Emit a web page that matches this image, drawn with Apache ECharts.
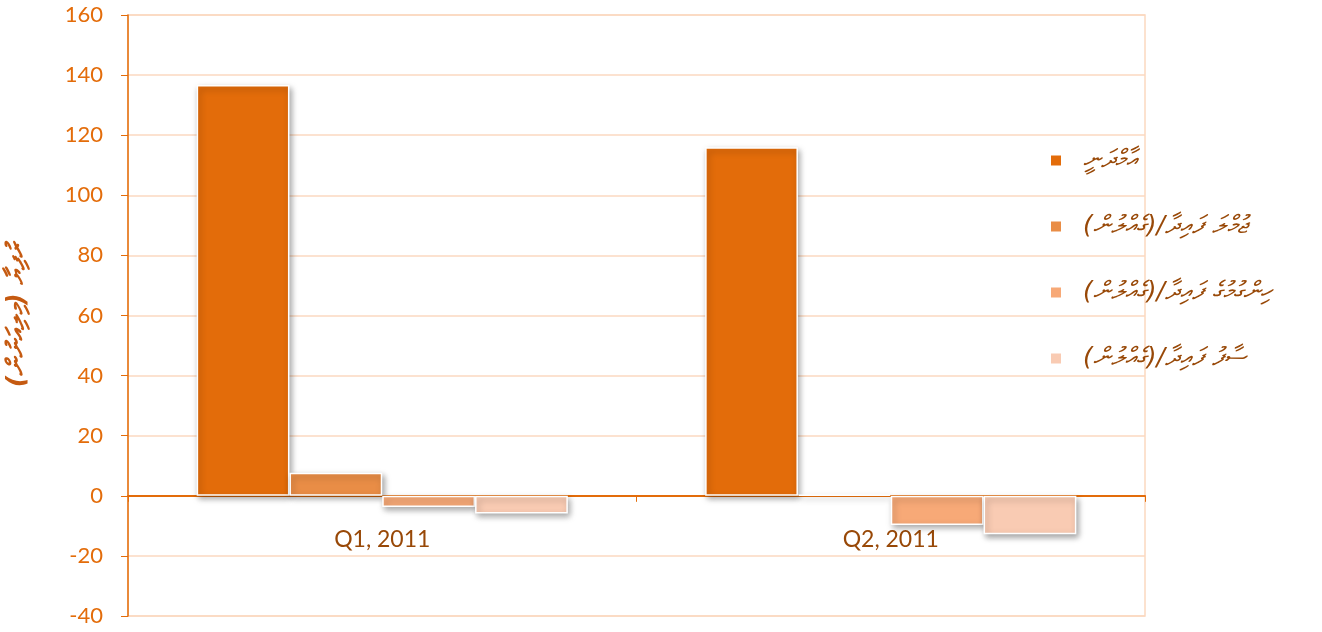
<!DOCTYPE html>
<html><head><meta charset="utf-8">
<script src="https://cdn.jsdelivr.net/npm/echarts@6/dist/echarts.min.js"></script>
<style>html,body{margin:0;padding:0;background:#fff}#c{width:1322px;height:632px}</style>
</head><body><div id="c"></div>
<script>
const categories = ['Q1, 2011', 'Q2, 2011'];
const seriesNames = ['އާމްދަނީ', 'ޖުމްލަ ފައިދާ/(ގެއްލުން)', 'ހިންގުމުގެ ފައިދާ/(ގެއްލުން)', 'ސާފު ފައިދާ/(ގެއްލުން)'];
const revenue = [136.7, 116];
const grossProfit = [7.7, 0.3];
const operatingProfit = [-3.7, -9.7];
const netProfit = [-5.9, -12.8];
const yAxisTitle = 'ރުފިޔާ (މިލިއަނުން)';
const colors = ['#e36c0a', '#e98d46', '#f7a977', '#f9cbb3'];
const values = [revenue, grossProfit, operatingProfit, netProfit];

const chart = echarts.init(document.getElementById('c'));
chart.setOption({
  animation: false,
  grid: {left: 128, right: 177, top: 15, bottom: 16, outerBoundsMode: 'none', containLabel: false,
    show: true, borderColor: '#fbd9c0', borderWidth: 1.5},
  legend: {
    orient: 'vertical', left: 1044, top: 143, itemGap: 41, itemWidth: 12, itemHeight: 12, icon: 'rect',
    textStyle: {color: '#984807', fontSize: 25, lineHeight: 20, fontStyle: 'italic', fontFamily: 'DejaVu Sans',
      padding: [0, 0, 0, 16]}
  },
  xAxis: {
    type: 'category', data: categories,
    axisLine: {onZero: true, lineStyle: {color: '#e36c0a', width: 2}},
    axisTick: {show: true, length: 6, lineStyle: {color: '#e36c0a'}},
    axisLabel: {margin: -88, color: '#984807', fontSize: 23, fontFamily: 'Lato'}
  },
  yAxis: {
    type: 'value', min: -40, max: 160, interval: 20,
    name: yAxisTitle, nameLocation: 'middle', nameGap: 98, nameRotate: 90,
    nameTextStyle: {color: '#c55a11', fontSize: 25, fontStyle: 'italic', fontWeight: 'bold', fontFamily: 'DejaVu Sans'},
    axisLine: {show: true, lineStyle: {color: '#e36c0a', width: 1.5}},
    axisTick: {show: true, length: 7, lineStyle: {color: '#e36c0a'}},
    axisLabel: {color: '#e36c0a', fontSize: 22, fontFamily: 'Lato', margin: 25},
    splitLine: {lineStyle: {color: '#fbd9c0', width: 1.5}}
  },
  series: seriesNames.map((n, i) => ({
    name: n, type: 'bar', data: values[i],
    barGap: '0%', barCategoryGap: '27%',
    itemStyle: {color: colors[i], borderColor: '#fff', borderWidth: 1.5,
      shadowBlur: 6, shadowColor: 'rgba(0,0,0,0.35)', shadowOffsetX: 2, shadowOffsetY: 3}
  }))
});
</script></body></html>
